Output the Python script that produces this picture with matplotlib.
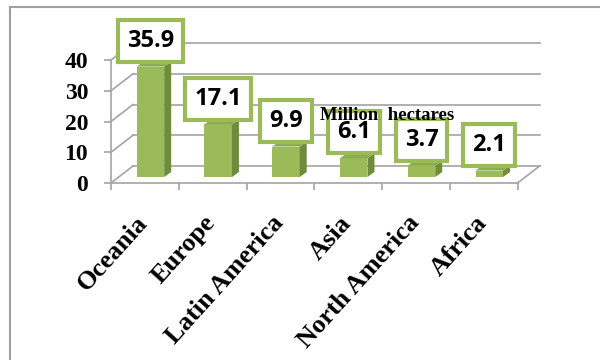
import matplotlib
matplotlib.use("Agg")
import matplotlib.pyplot as plt
from matplotlib.patches import Polygon
from matplotlib.lines import Line2D

categories = ["Oceania", "Europe", "Latin America", "Asia", "North America", "Africa"]
values = [35.9, 17.1, 9.9, 6.1, 3.7, 2.1]
value_labels = ["35.9", "17.1", "9.9", "6.1", "3.7", "2.1"]
yticks = [0, 10, 20, 30, 40]
unit_text = "Million  hectares"

GREEN = "#9BBB59"
GREEN_SIDE = "#6F8B3C"
GREEN_TOP = "#8CAD4E"
GRID = "#A3A3A3"

W, H = 600, 360
fig = plt.figure(figsize=(6, 3.6), dpi=100)
fig.patch.set_facecolor("white")

# front plane of the chart in pixels
left_px, right_px, bot_px, top_px = 111, 517.6, 183, 60
ax = fig.add_axes([left_px / W, 1 - bot_px / H, (right_px - left_px) / W, (bot_px - top_px) / H])
n = len(categories)
ax.set_xlim(-0.5, n - 0.5)
ax.set_ylim(0, 40)
ax.set_facecolor("none")

pxx = (right_px - left_px) / n          # px per category
pxy = (bot_px - top_px) / 40.0          # px per unit

# depth of the floor
DX = 22 / pxx
DY = 17 / pxy

# side wall diagonals and back-wall gridlines
for t in yticks:
    ax.add_line(Line2D([-0.5, -0.5 + DX], [t, t + DY], color=GRID, lw=1.2, clip_on=False, zorder=1))
    ax.add_line(Line2D([-0.5 + DX, n - 0.5 + DX], [t + DY, t + DY], color=GRID, lw=1.2, clip_on=False, zorder=1))
# floor right edge
ax.add_line(Line2D([n - 0.5, n - 0.5 + DX], [0, DY], color=GRID, lw=1.2, clip_on=False, zorder=1))

# bars
bar_off = -8.2 / pxx
bar_w = 27.5 / pxx
base = 6 / pxy
bdx = 7 / pxx
bdy = 5 / pxy
xs = [i + bar_off for i in range(n)]
ax.bar(xs, values, width=bar_w, bottom=base, align="edge", color=GREEN, edgecolor="none", zorder=3, clip_on=False)
for x0, v in zip(xs, values):
    x1 = x0 + bar_w
    yb, yt = base, base + v
    side = Polygon([(x1, yb), (x1 + bdx, yb + bdy), (x1 + bdx, yt + bdy), (x1, yt)],
                   closed=True, fc=GREEN_SIDE, ec="none", zorder=3, clip_on=False)
    top = Polygon([(x0, yt), (x1, yt), (x1 + bdx, yt + bdy), (x0 + bdx, yt + bdy)],
                  closed=True, fc=GREEN_TOP, ec="none", zorder=3, clip_on=False)
    ax.add_patch(side)
    ax.add_patch(top)

# value labels
for x0, v, lab in zip(xs, values, value_labels):
    cx = x0 + bar_w / 2
    ax.annotate(lab, xy=(cx, base + v + bdy), xytext=(0, 15), textcoords="offset points",
                ha="center", va="center", fontsize=17, fontweight="bold", family="Open Sans",
                color="black", zorder=6, annotation_clip=False,
                bbox=dict(boxstyle="square,pad=0.38", fc="white", ec=GREEN, lw=3))

# unit text
ax.text(3.58, 22.1, unit_text, ha="center", va="center", fontsize=13.5, fontweight="bold",
        family="Liberation Serif", color="black", zorder=7)

# axes styling
for s in ["top", "right"]:
    ax.spines[s].set_visible(False)
for s in ["left", "bottom"]:
    ax.spines[s].set_color(GRID)
    ax.spines[s].set_linewidth(1.2)
    ax.spines[s].set_zorder(2)
ax.set_yticks(yticks)
ax.set_yticklabels([str(t) for t in yticks], fontsize=17, fontweight="bold", family="Liberation Serif")
ax.tick_params(axis="y", length=5, width=1.2, color=GRID, pad=11.5)
ax.set_xticks([i - 0.5 for i in range(n + 1)])
ax.set_xticklabels([])
ax.tick_params(axis="x", length=5, width=1.2, color=GRID)

# category labels
for i, c in enumerate(categories):
    ax.text(i - 1 / pxx, -36 / pxy, c, rotation=48, rotation_mode="anchor", ha="right", va="center",
            fontsize=19, fontweight="bold", family="Liberation Serif", color="black", clip_on=False)

# chart frame (top and left borders)
fig.add_artist(Line2D([9.5 / W, 1.0], [1 - 6.5 / H, 1 - 6.5 / H], color="#A0A0A0", lw=1.5, transform=fig.transFigure))
fig.add_artist(Line2D([9.5 / W, 9.5 / W], [0, 1 - 6.5 / H], color="#A0A0A0", lw=1.5, transform=fig.transFigure))

fig.savefig("out.png", dpi=100, facecolor="white")
